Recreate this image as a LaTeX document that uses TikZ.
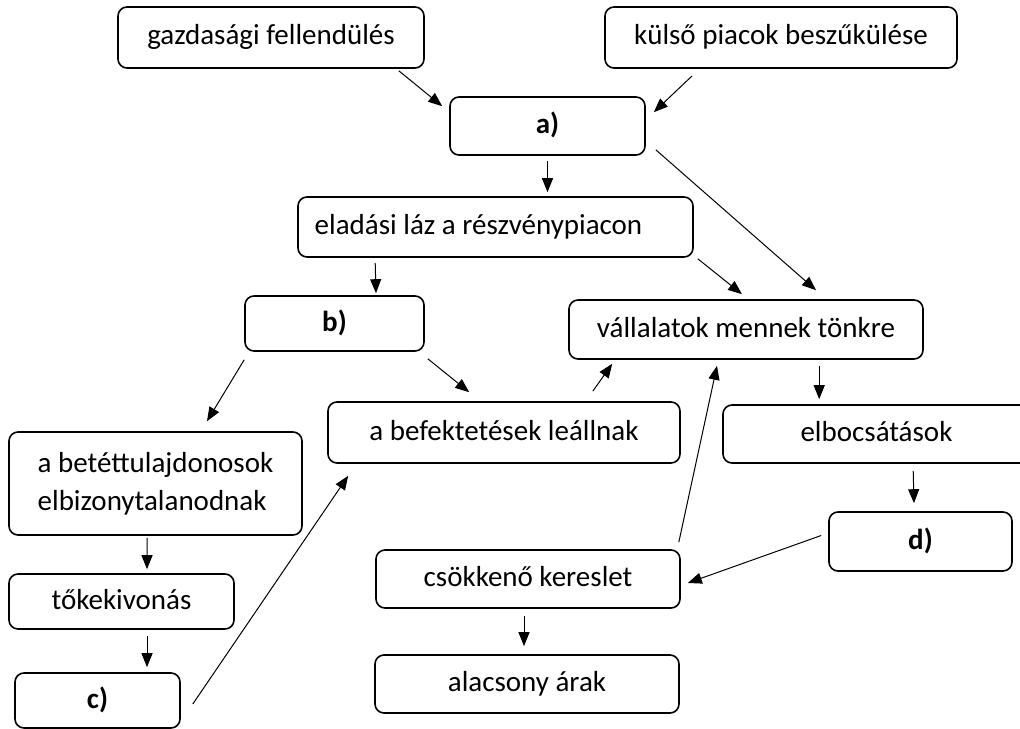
\documentclass[tikz,border=0pt]{standalone}
\usepackage{fontspec}
\setmainfont{Carlito}
\usetikzlibrary{arrows.meta,calc}
\begin{document}
\begin{tikzpicture}[x=1bp,y=-1bp,
  box/.style={draw, rounded corners=9bp, line width=1.6bp, inner sep=0pt, align=center,
    text height=20bp, text depth=5bp,
    font=\fontsize{29bp}{34bp}\selectfont},
  lbl/.style={box, font=\fontsize{29bp}{34bp}\selectfont\bfseries},
  arr/.style={-{Triangle[length=14bp,width=11bp]}, line width=1bp}]
\useasboundingbox (0,0) rectangle (1020,729);

\node[box, minimum width=306bp, minimum height=61bp] (gazd) at (271,37.5) {gazdasági fellendülés};
\node[box, minimum width=352bp, minimum height=61bp] (kulso) at (781,37.5) {külső piacok beszűkülése};
\node[lbl, minimum width=195bp, minimum height=58bp] (a) at (547.5,126) {a)};
\node[box, minimum width=395bp, minimum height=60bp] (el) at (495.5,227) {eladási láz a részvénypiacon\hspace*{34bp}};
\node[lbl, minimum width=179bp, minimum height=55bp] (b) at (334.5,323.5) {b)};
\node[box, minimum width=354bp, minimum height=59bp] (vall) at (746,329.5) {vállalatok mennek tönkre};
\node[draw, rounded corners=9bp, line width=1.6bp, inner sep=0pt, minimum width=293bp, minimum height=103bp, align=left,
  font=\fontsize{29bp}{38bp}\selectfont] (bet) at (155.5,483.5) {a betéttulajdonosok\\elbizonytalanodnak};
\node[box, minimum width=352bp, minimum height=61bp] (bef) at (504,432.5) {a befektetések leállnak};
\node[box, minimum width=307bp, minimum height=58bp] (elb) at (876.5,434) {elbocsátások};
\node[box, minimum width=225bp, minimum height=55bp] (tok) at (121.5,601.5) {tőkekivonás};
\node[lbl, minimum width=183bp, minimum height=59bp] (d) at (920.5,541.5) {d)};
\node[box, minimum width=304bp, minimum height=58bp] (csok) at (528,579) {csökkenő kereslet};
\node[lbl, minimum width=165bp, minimum height=55bp] (c) at (97.5,700.5) {c)};
\node[box, minimum width=304bp, minimum height=58bp] (alac) at (527,684) {alacsony árak};

\draw[arr] ($(gazd.south east)+(-26,2)$) -- ($(a.north west)+(-7,10)$);
\draw[arr] ($(kulso.south west)+(88,7)$) -- ($(a.north east)+(8,16)$);
\draw[arr] ($(a.south)+(0,5)$) -- ($(a.south |- el.north)+(0,-4)$);
\draw[arr] ($(a.south east)+(10,-6)$) -- ($(vall.north)+(70,-9)$);
\draw[arr] ($(el.south east)+(4,1)$) -- ($(vall.north)+(-4,-5)$);
\draw[arr] ($(el.south west)+(78,5)$) -- ($(b.north)+(41.5,-2)$);
\draw[arr] ($(b.south west)+(0,8)$) -- ($(bet.north)+(51.5,-10)$);
\draw[arr] ($(b.south east)+(3,7)$) -- ($(bef.north west)+(142,-9)$);
\draw[arr] ($(bef.north east)+(-88,-10)$) -- ($(vall.south west)+(44,4)$);
\draw[arr] ($(csok.north east)+(-2,-7)$) -- ($(vall.south)+(-29,6)$);
\draw[arr] ($(elb.north west)+(97,-38)$) -- ($(elb.north west)+(97,-5)$);
\draw[arr] ($(elb.south west)+(191,7)$) -- ($(d.north)+(-6.5,-8)$);
\draw[arr] ($(d.west)+(-7,-6)$) -- ($(csok.east)+(7,4)$);
\draw[arr] ($(bet.south)+(-8.5,2)$) -- ($(tok.north)+(25.5,-4)$);
\draw[arr] ($(tok.south)+(25.5,6)$) -- ($(c.north)+(49.5,-5)$);
\draw[arr] ($(c.east)+(12,3.5)$) -- ($(bef.south west)+(21,12)$);
\draw[arr] ($(csok.south)+(-4,7)$) -- ($(alac.north)+(-3,-8)$);
\end{tikzpicture}
\end{document}
